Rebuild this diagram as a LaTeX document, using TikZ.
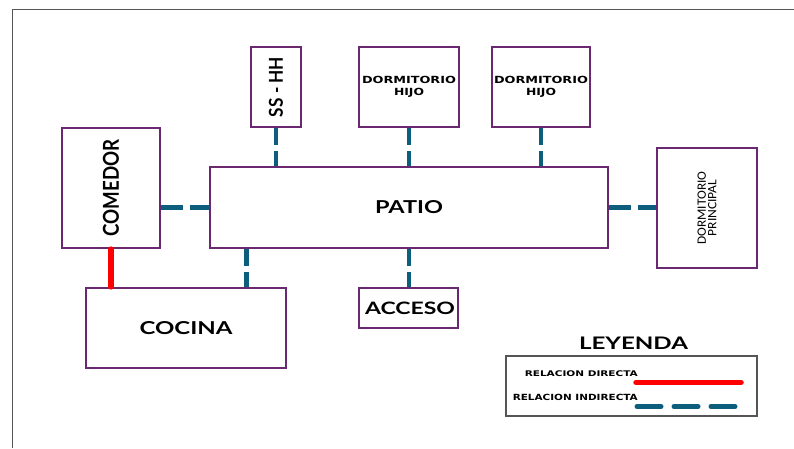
\documentclass[tikz,border=0pt]{standalone}
\usepackage{fontspec}
\setmainfont{Lato}
\newfontfamily\widefont{DejaVu Sans}
\newfontfamily\carlitofont{Carlito}
\definecolor{roomline}{RGB}{106,40,112}
\definecolor{indirect}{RGB}{12,94,124}
\definecolor{direct}{RGB}{255,0,0}
\definecolor{frameline}{RGB}{85,85,85}
% set a word to a given width and cap height
\newcommand{\fitword}[3]{\resizebox{#1}{#2}{#3}}
\tikzset{
  room/.style={draw=roomline, line width=2.7pt, fill=white, inner sep=0pt, align=center},
  vlink/.style={draw=indirect, line width=4.5pt, dash pattern=on 17pt off 6pt},
  hlink/.style={draw=indirect, line width=4.5pt, dash pattern=on 21.5pt off 7pt},
  dlink/.style={draw=direct, line width=6pt, line cap=round},
  bigtxt/.style={font=\bfseries\fontsize{17}{19}\selectfont},
  smalltxt/.style={font=\widefont\bfseries\fontsize{9}{12.3}\selectfont},
  legtxt/.style={font=\widefont\bfseries\fontsize{7.5}{8}\selectfont, anchor=east, inner sep=0pt}
}
\begin{document}
\begin{tikzpicture}[x=1pt, y=-1pt]
  \useasboundingbox (0,0) rectangle (794,448);
  % sheet border
  \draw[frameline, line width=1.5pt] (12.5,448) -- (12.5,9.5) -- (794,9.5);

  % rooms
  \node[room, minimum width=50pt, minimum height=80pt] (sshh) at (276,87)
    {\rotatebox{90}{\bfseries\fitword{60pt}{14pt}{SS - HH}}};
  \node[room, minimum width=100pt, minimum height=80pt, smalltxt] (dh1) at (409,87)
    {\fitword{94pt}{7.3pt}{DORMITORIO}\\\fitword{30pt}{7.3pt}{HIJO}};
  \node[room, minimum width=98pt, minimum height=80pt, smalltxt] (dh2) at (541,87)
    {\fitword{94pt}{7.3pt}{DORMITORIO}\\\fitword{30pt}{7.3pt}{HIJO}};
  \node[room, minimum width=98pt, minimum height=120pt] (comedor) at (111,188)
    {\rotatebox{90}{\bfseries\fitword{97pt}{16pt}{COMEDOR}}};
  \node[room, minimum width=398pt, minimum height=81pt, bigtxt] (patio) at (409,207.5)
    {\fitword{68pt}{13pt}{PATIO}};
  \node[room, minimum width=100pt, minimum height=120pt] (dp) at (707,208)
    {\rotatebox{90}{\parbox{90pt}{\centering\carlitofont\fontsize{10}{10.7}\selectfont
      \fitword{73pt}{8.3pt}{DORMITORIO}\\\fitword{56.7pt}{8.3pt}{PRINCIPAL}}}};
  \node[room, minimum width=200pt, minimum height=80pt, bigtxt] (cocina) at (186,328)
    {\fitword{93pt}{13pt}{COCINA}};
  \node[room, minimum width=99pt, minimum height=40pt, font=\fontseries{k}\bfseries\fontsize{17}{19}\selectfont] (acceso) at (408.5,308)
    {\hspace*{3pt}\fitword{90pt}{12.5pt}{ACCESO}};

  % indirect relations
  \draw[vlink] (sshh.south) -- (sshh.south |- patio.north);
  \draw[vlink] (dh1.south) -- (dh1.south |- patio.north);
  \draw[vlink] (dh2.south) -- (dh2.south |- patio.north);
  \draw[hlink] (patio.west -| comedor.east) -- (patio.west);
  \draw[hlink] (patio.east) -- (patio.east -| dp.west);
  \draw[vlink] ([xshift=38pt]patio.south west) -- ([xshift=38pt]patio.south west |- cocina.north);
  \draw[vlink] (patio.south) -- (patio.south |- acceso.north);
  % direct relation
  \draw[dlink] (comedor.south) -- (comedor.south |- cocina.north);

  % legend
  \node[bigtxt] (leytitle) at (633.5,343) {\fitword{109pt}{12.5pt}{LEYENDA}};
  \node[draw=frameline, line width=1.2pt, minimum width=251pt, minimum height=60pt, inner sep=0pt] (legbox) at (631.5,386) {};
  \coordinate (d1) at (636,382.5);
  \coordinate (d2) at (741,382.5);
  \coordinate (i1) at (637,406.5);
  \coordinate (i2) at (741,406.5);
  \node[legtxt] (ldir) at (638,374) {\fitword{113pt}{5.8pt}{RELACION DIRECTA}};
  \node[legtxt] (lind) at (638,397.5) {\fitword{125pt}{6.3pt}{RELACION INDIRECTA}};
  \draw[dlink, line width=5.5pt] (d1) -- (d2);
  \draw[draw=indirect, line width=5pt, line cap=round, dash pattern=on 24pt off 13pt] (i1) -- (i2);
\end{tikzpicture}
\end{document}
